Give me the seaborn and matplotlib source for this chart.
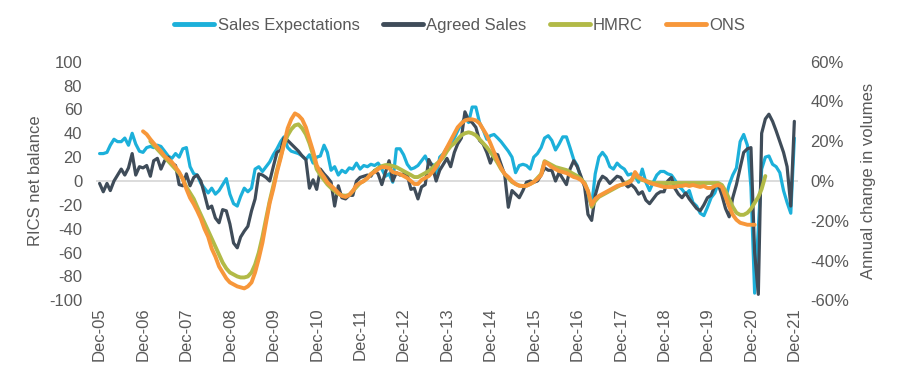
import numpy as np
import pandas as pd
import seaborn as sns
import matplotlib.pyplot as plt
from matplotlib.lines import Line2D

# RICS net balances, monthly from Dec-05
rics_start = '2005-12-01'
sales_expectations = [
    23, 23, 24, 30, 35, 33, 33, 36, 30, 40,
    31, 25, 24, 28, 29, 28, 30, 29, 25, 21,
    19, 23, 20, 27, 28, 12, 6, 5, -2, -6,
    -10, -6, -11, -8, -3, 2, -11, -19, -21, -13,
    -6, -9, -6, 10, 12, 8, 12, 16, 22, 27,
    33, 37, 28, 25, 24, 23, 21, 18, 22, 15,
    20, 21, 30, 24, 9, 12, 5, 9, 7, 11,
    10, 15, 10, 13, 12, 14, 13, 15, 10, 4,
    6, -1, 27, 27, 22, 14, 10, 11, 13, 17,
    21, 14, 14, 2, 20, 23, 28, 31, 36, 42,
    48, 53, 49, 62, 62, 49, 43, 35, 38, 39,
    36, 33, 29, 25, 20, 7, 13, 14, 13, 10,
    20, 23, 28, 36, 38, 34, 26, 31, 37, 37,
    28, 18, 13, 2, -2, -12, -21, 6, 20, 24,
    20, 12, 10, 15, 12, 10, 5, 6, 4, -1,
    10, -1, -8, -1, 5, 8, 8, 6, 5, 1,
    -4, -7, -11, -8, -18, -21, -27, -29, -22, -14,
    -10, -2, -5, -15, -3, 5, 11, 33, 39, 30,
    -5, -94, -40, 10, 20, 21, 14, 12, 7, -8,
    -18, -27, 36]
agreed_sales = [
    -2, -9, -2, -8, 0, 5, 10, 5, 11, 23,
    5, 12, 11, 13, 4, 17, 19, 10, 17, 20,
    15, 13, -3, -4, 6, -4, 3, 5, 0, -11,
    -23, -21, -31, -35, -24, -25, -36, -52, -56, -47,
    -42, -38, -25, -15, 6, 5, 3, 0, 12, 24,
    26, 36, 34, 31, 28, 25, 21, 18, -6, 1,
    -7, 10, 6, 3, -1, -21, -4, -14, -15, -12,
    -12, 0, 3, 4, 5, 4, 9, 6, -3, 7,
    17, 0, 7, 5, 6, 5, -7, -6, -15, -5,
    -3, 18, 12, 0, 9, 14, 19, 12, 24, 31,
    36, 58, 51, 49, 45, 34, 31, 24, 15, 23,
    22, 14, 5, -22, -8, -11, -14, -8, -1, 0,
    -1, 0, 5, 11, 9, 9, 0, 7, 2, -3,
    10, 17, 12, 4, -5, -28, -33, -12, -1, 4,
    2, -2, 1, 4, 3, -2, -5, -3, -6, -11,
    -9, -16, -19, -15, -11, -9, -9, 0, 3, -6,
    -11, -14, -10, -15, -19, -23, -25, -20, -14, -12,
    -4, -3, -12, -23, -30, -14, -3, 11, 24, 27,
    28, -60, -95, 40, 52, 56, 50, 42, 33, 24,
    12, -21, 50]

# annual change in transaction volumes (%), monthly
hmrc_start = '2007-02-01'
hmrc = [
    20, 18, 16, 14, 12, 10, 8, 6,
    4, 1, -3, -6, -9, -13, -17, -21, -25, -29,
    -33, -37, -41, -44, -46, -47, -48, -48.5, -48.5, -48,
    -46, -42, -36, -28, -19, -10, -2.5, 5.5, 12.5, 18.5,
    23, 26, 28, 28.5, 26.5, 23.5, 19, 13, 6, 3,
    0.5, -1.7, -3.5, -5, -6.5, -7.2, -7.4, -7, -5, -3,
    -1, 0, 1.5, 3.5, 5, 6.5, 7.5, 8, 8, 7.5,
    7, 6, 5, 4, 3, 2, 2, 3, 4, 5,
    6.5, 8.5, 10, 12, 15, 17.5, 19, 21, 23, 24,
    24.5, 24, 23, 21, 19, 17, 14.5, 12, 9, 6,
    3.5, 1.5, -0.5, -1.5, -2.3, -2.5, -2.3, -1.5, -0.5, 1.5,
    3.5, 10, 9, 8, 7, 6.5, 6, 5.5, 4.5, 3.5,
    2.5, 1, -1, -5, -13, -10, -8, -7, -6, -5,
    -4, -3, -2, -1.5, -0.5, 0.5, 2.5, 1.5, 0.5, 0,
    -0.5, -1, -1, -1, -1, -1, -1, -1, -1, -1,
    -1, -1, -1, -1, -1, -1, -1, -1, -1, -1,
    -2, -5, -9, -13, -16, -17, -17, -16, -14, -11,
    -8, -4, 2.5]
ons_start = '2006-12-01'
ons = [
    25, 23.5, 21, 19, 17, 15, 12.5, 11, 9.5, 7,
    4.5, 1, -4, -8.5, -11.6, -15, -19, -24, -28, -34,
    -38, -43, -46, -49, -51, -52, -53, -53.5, -54, -53,
    -51, -46, -39, -31, -21, -11, -4, 4.5, 11.5, 18.5,
    26.5, 31, 34, 33, 31, 27, 21, 15, 8, 4.5,
    2, -0.7, -2.4, -4, -6, -7.5, -8, -7, -5, -2,
    -1, 0, 1.5, 3.5, 4.5, 6, 7, 7, 6.5, 4.5,
    4, 3.5, 2.5, 1.5, 0, -1.5, -1.5, 0.5, 1.5, 2.5,
    4.5, 7, 10, 13.5, 17, 20.5, 24, 27, 29, 30.5,
    31, 31, 30.5, 29, 26, 23, 19, 14.5, 10, 6.5,
    3.5, 2, 0, -1.5, -2.4, -2.5, -2.4, -1.5, -0.5, 1,
    3, 9.5, 8.5, 7, 6, 5, 4.5, 4, 3, 2,
    1.5, 0.5, -1.5, -5, -12, -9, -7.5, -6.5, -5.5, -4.5,
    -3.5, -2.5, -2, -1.5, -1, 0, 4.5, 2, 1, 0,
    -1, -1.5, -2, -2.5, -3, -3, -3, -3, -2.5, -2.5,
    -2, -2.5, -2, -2.5, -3, -2.5, -3.5, -3.5, -2.5, -2,
    -3, -8, -13, -17, -19.5, -21, -21.5, -22, -22, -22]

series_names = ['Sales Expectations', 'Agreed Sales', 'HMRC', 'ONS']
colours = ['#1CB0DA', '#3F4C59', '#B2BA47', '#F7973A']
left_ticks = list(range(-100, 101, 20))
right_ticks = list(range(-60, 61, 20))


def frame(start, values):
    return pd.DataFrame({'month': pd.date_range(start, periods=len(values), freq='MS'),
                         'value': values})


sns.set_theme(style='white')
plt.rcParams['font.family'] = ['Liberation Sans', 'DejaVu Sans']
grey = '#595959'

fig = plt.figure(figsize=(9, 3.8), dpi=100)
ax = fig.add_axes([0.1067, 0.2097, 0.78, 0.6279])
ax2 = ax.twinx()

ax.axhline(0, color='#D9D9D9', lw=1.3, zorder=0)
sns.lineplot(data=frame(rics_start, sales_expectations), x='month', y='value',
             ax=ax, color=colours[0], lw=2.3, legend=False)
sns.lineplot(data=frame(rics_start, agreed_sales), x='month', y='value',
             ax=ax, color=colours[1], lw=2.3, legend=False)
sns.lineplot(data=frame(hmrc_start, hmrc), x='month', y='value',
             ax=ax2, color=colours[2], lw=2.8, legend=False)
sns.lineplot(data=frame(ons_start, ons), x='month', y='value',
             ax=ax2, color=colours[3], lw=2.8, legend=False)

ax.set_xlim(pd.Timestamp('2005-11-01'), pd.Timestamp('2022-01-01'))
ax.set_ylim(-100, 100)
ax2.set_ylim(-60, 60)

xt = pd.date_range('2005-12-01', '2021-12-01', freq='12MS')
ax.set_xticks(xt)
ax.set_xticklabels([d.strftime('%b-%y') for d in xt], rotation=90)
ax.set_yticks(left_ticks)
ax.set_yticklabels([str(v) for v in left_ticks])
ax2.set_yticks(right_ticks)
ax2.set_yticklabels([f'{v}%' for v in right_ticks])

ax.tick_params(axis='x', pad=5, length=0, labelsize=12, labelcolor=grey)
ax.tick_params(axis='y', pad=10, length=0, labelsize=12, labelcolor=grey)
ax2.tick_params(axis='y', pad=9, length=0, labelsize=12, labelcolor=grey)

ax.set_xlabel('')
ax.set_ylabel('RICS net balance', fontsize=12, color=grey, labelpad=4)
ax2.set_ylabel('Annual change in volumes', fontsize=12, color=grey, labelpad=8)

for a in (ax, ax2):
    for s in a.spines.values():
        s.set_visible(False)

handles = [Line2D([0], [0], color=c, lw=3.5) for c in colours]
fig.legend(handles, series_names, loc='center', bbox_to_anchor=(0.511, 0.934),
           ncol=4, frameon=False, fontsize=12, handlelength=2.4,
           handletextpad=0.2, columnspacing=1.4, labelcolor=grey)

fig.savefig('out.png', dpi=100)
